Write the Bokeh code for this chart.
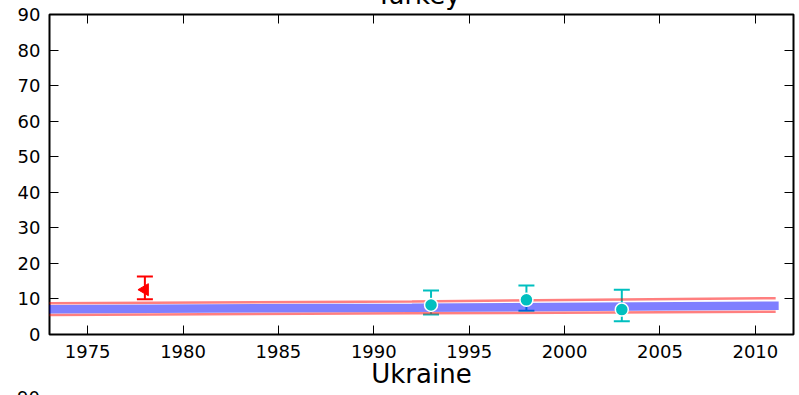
import numpy as np
from bokeh.plotting import figure
from bokeh.layouts import column
from bokeh.models import LinearAxis, Range1d, FixedTicker, Div
from bokeh.embed import file_html
from bokeh.resources import INLINE

# ---- data ----
obs_years = [1993, 1998, 2003]
obs_vals = [8.3, 9.75, 7.0]
obs_low = [5.6, 6.7, 3.75]
obs_high = [12.4, 13.8, 12.6]

alt_years = [1978]
alt_vals = [12.6]
alt_low = [9.9]
alt_high = [16.3]

fit_years = [1973, 1992, 2011]
fit_mid = [7.1, 7.55, 8.1]
fit_upper = [8.8, 9.3, 10.2]
fit_lower = [5.5, 5.95, 6.4]

x_ticks = [1975, 1980, 1985, 1990, 1995, 2000, 2005, 2010]
y_ticks = [0, 10, 20, 30, 40, 50, 60, 70, 80, 90]

title_this = "Turkey"
title_next = "Ukraine"
next_top_tick = "90"

FONT = "DejaVu Sans"
CYAN = "#00bfbf"

p = figure(width=799, height=395, output_backend="svg", toolbar_location=None,
           x_range=Range1d(1973, 2012), y_range=Range1d(0, 90), title=None,
           min_border_left=49, min_border_right=6, min_border_top=14, min_border_bottom=61)
p.background_fill_color = "white"
p.border_fill_color = "white"
p.outline_line_color = "black"
p.outline_line_width = 2
p.xgrid.visible = False
p.ygrid.visible = False


def style_axis(ax, ticks, show_labels):
    ax.ticker = FixedTicker(ticks=ticks)
    ax.axis_line_color = None
    ax.major_tick_in = 9
    ax.major_tick_out = 0
    ax.major_tick_line_color = "black"
    ax.major_tick_line_width = 1
    ax.minor_tick_line_color = None
    if show_labels:
        ax.major_label_text_font = FONT
        ax.major_label_text_font_size = "18px"
        ax.major_label_text_color = "black"
    else:
        ax.major_label_text_font_size = "1px"
        ax.major_label_text_color = None
        ax.major_label_standoff = 0


style_axis(p.xaxis[0], x_ticks, True)
p.xaxis[0].major_label_standoff = 10
p.xaxis[0].axis_label = title_next
p.xaxis[0].axis_label_text_font = FONT
p.xaxis[0].axis_label_text_font_size = "26px"
p.xaxis[0].axis_label_text_font_style = "normal"
p.xaxis[0].axis_label_text_color = "black"
p.xaxis[0].axis_label_standoff = -2
style_axis(p.yaxis[0], y_ticks, True)
p.yaxis[0].major_label_standoff = 9

top_axis = LinearAxis()
style_axis(top_axis, x_ticks, False)
p.add_layout(top_axis, "above")
right_axis = LinearAxis()
style_axis(right_axis, y_ticks, False)
p.add_layout(right_axis, "right")

# error bars
p.segment(x0=obs_years, y0=obs_low, x1=obs_years, y1=obs_high, line_color=CYAN, line_width=2)
p.scatter(x=obs_years + obs_years, y=obs_low + obs_high, marker="dash", size=16,
          line_color=CYAN, line_width=2)
p.segment(x0=alt_years, y0=alt_low, x1=alt_years, y1=alt_high, line_color="red", line_width=2)
p.scatter(x=alt_years + alt_years, y=alt_low + alt_high, marker="dash", size=16,
          line_color="red", line_width=2)

# fitted band
p.line(fit_years, fit_upper, line_color="red", line_alpha=0.5, line_width=2.5, line_cap="square")
p.line(fit_years, fit_lower, line_color="red", line_alpha=0.5, line_width=2.5, line_cap="square")
p.line(fit_years, fit_mid, line_color="blue", line_alpha=0.5, line_width=8.5, line_cap="square")

# markers
p.scatter(x=obs_years, y=obs_vals, marker="circle", size=13, fill_color=CYAN,
          line_color="white", line_width=1.5)
p.scatter(x=alt_years, y=alt_vals, marker="triangle", angle=np.pi / 2, size=12,
          fill_color="red", line_color="red")

# this panel's title (cut off by the top edge) and next panel's top tick label
# (cut off by the bottom edge), as overlaid text
txt = {"font-family": "DejaVu Sans", "line-height": "1", "color": "black",
       "margin": "0", "padding": "0", "white-space": "nowrap"}
d_top = Div(text=title_this, width=100, height=30,
            styles=dict(txt, **{"position": "absolute", "left": "376px", "top": "-18px",
                                "font-size": "26px"}))
d_bot = Div(text=next_top_tick, width=30, height=6,
            styles=dict(txt, **{"position": "absolute", "left": "17px", "top": "389px",
                                "font-size": "18px", "overflow": "hidden"}))

layout = column(p, d_top, d_bot)
open("out.html", "w").write(file_html(layout, INLINE))
